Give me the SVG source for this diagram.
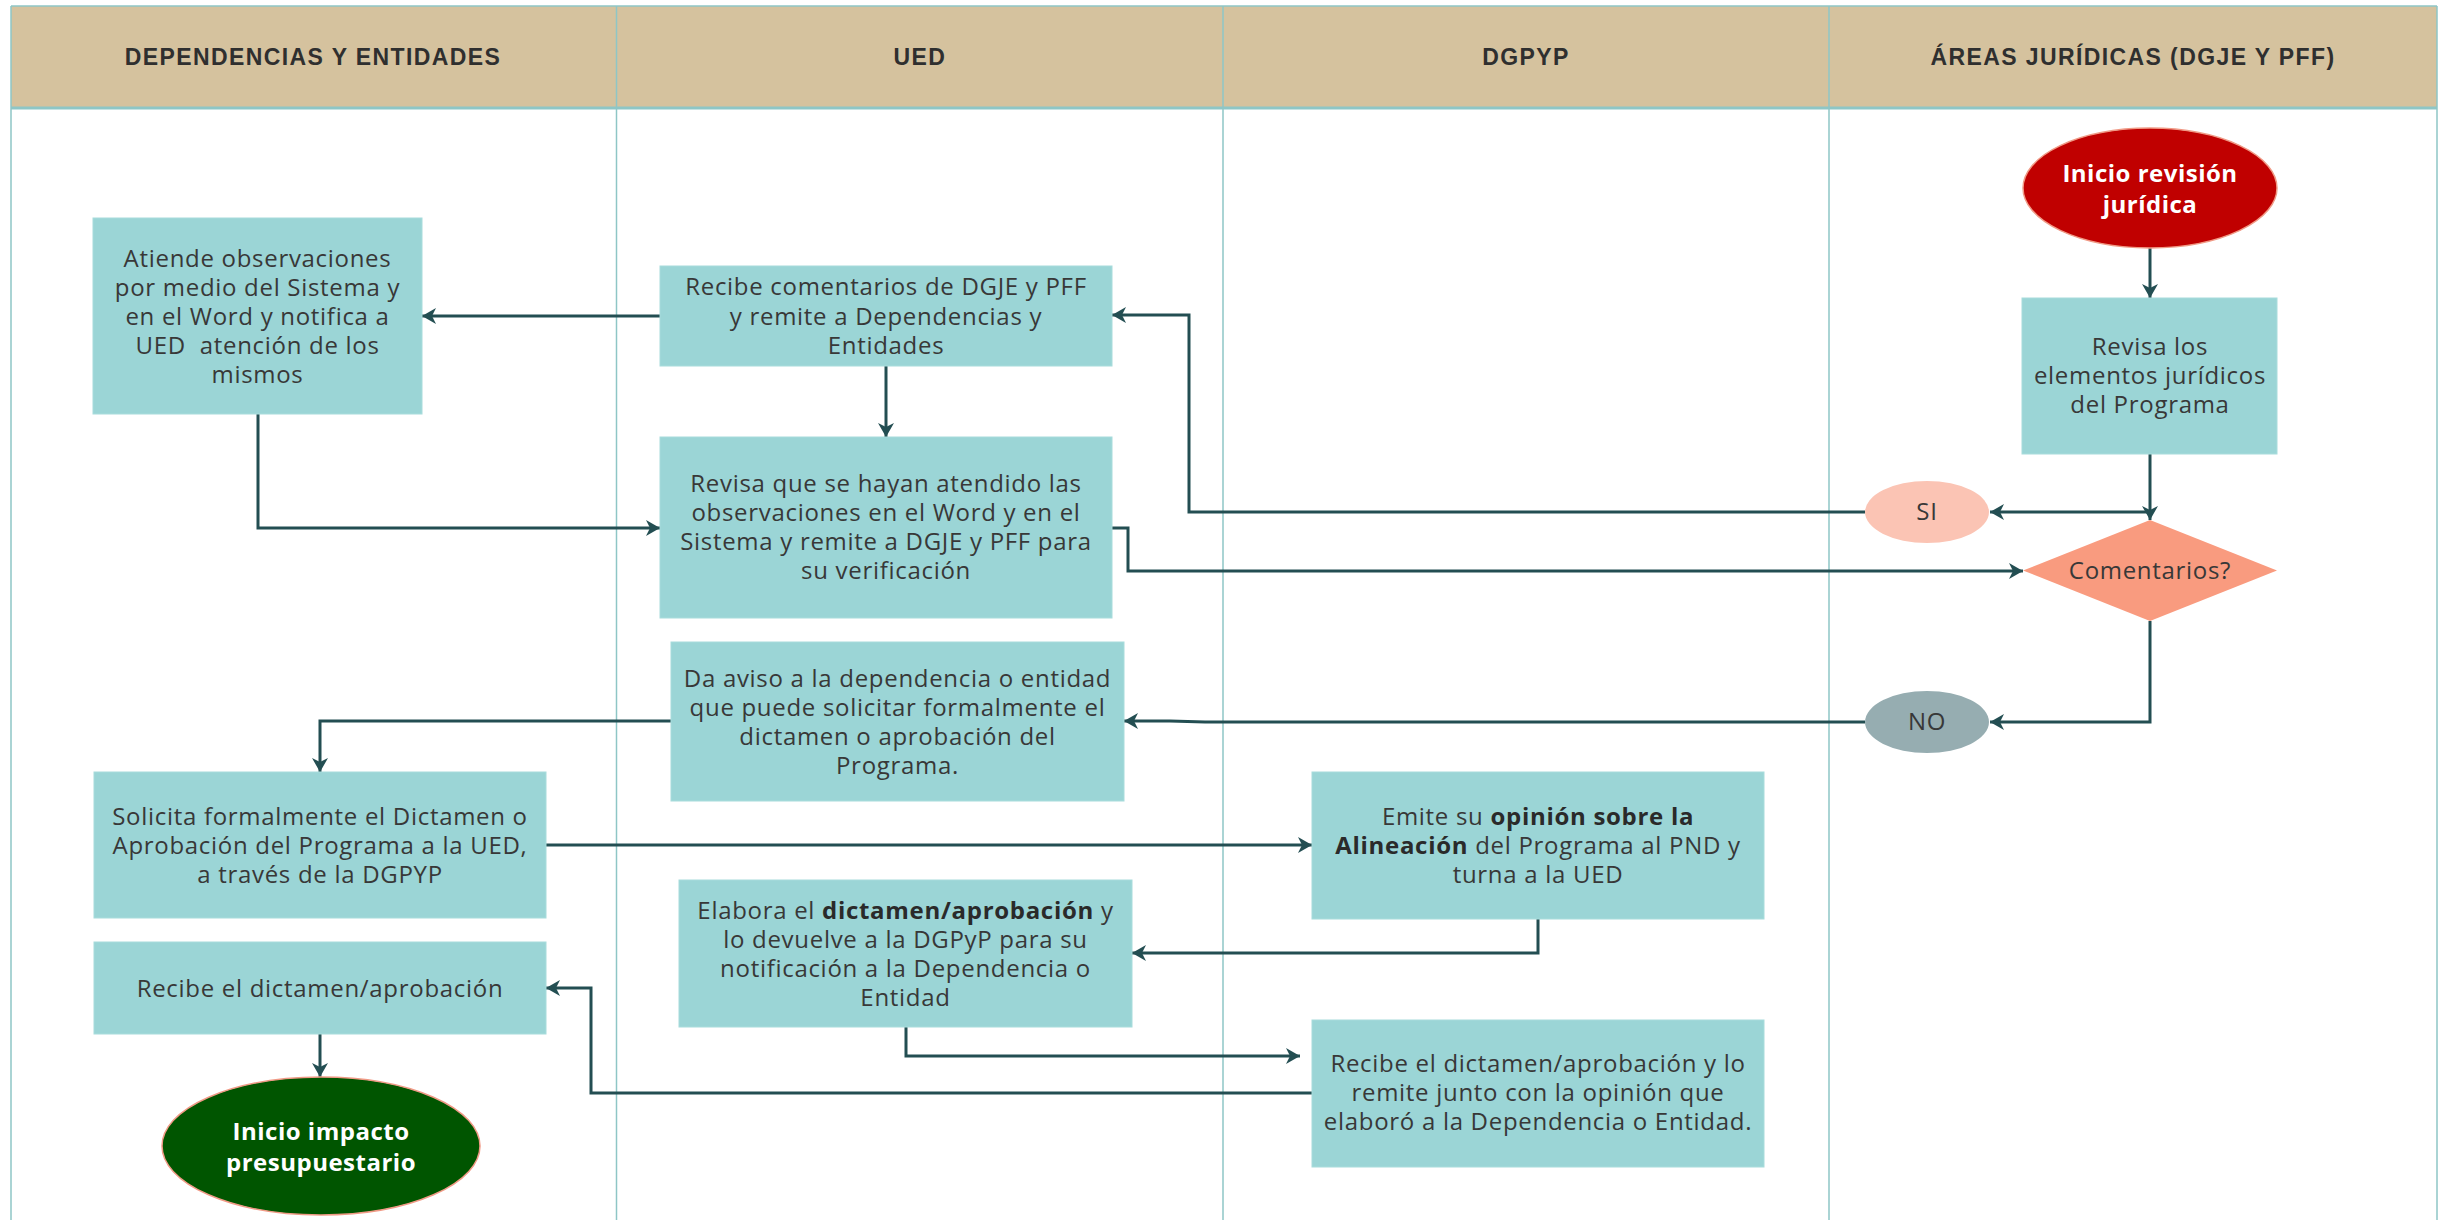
<svg xmlns="http://www.w3.org/2000/svg" width="2453" height="1220" viewBox="0 0 2453 1220">
<style>
.hdr{fill:#d5c29e;stroke:none}
.lane{stroke:#8ec6c6;stroke-width:1.5;fill:none}
.ht{font-family:"Liberation Sans",Arial,sans-serif;font-weight:bold;font-size:23px;fill:#2f2f2f;text-anchor:middle;letter-spacing:1.4px}
.box{fill:#9bd5d6;stroke:#a8dcdc;stroke-width:1}
.t{font-family:"Open Sans",sans-serif;font-size:24px;fill:#383838;text-anchor:middle;letter-spacing:0.7px}
.b{font-weight:bold;fill:#2a2a2a}
.wt{font-family:"Open Sans",sans-serif;font-size:24px;font-weight:bold;fill:#ffffff;text-anchor:middle;letter-spacing:0.5px}
.c{fill:none;stroke:#234e52;stroke-width:3}
</style>
<defs>
<marker id="ah" viewBox="0 0 16 16" refX="15" refY="8" markerWidth="16" markerHeight="16" orient="auto" markerUnits="userSpaceOnUse">
<path d="M1,0 L15,8 L1,16 L5,8 Z" fill="#234e52"/>
</marker>
</defs>
<rect width="2453" height="1220" fill="#ffffff"/>
<g id="lanes">
<rect class="hdr" x="11" y="6" width="2426" height="102"/>
<line class="lane" x1="11" y1="6" x2="2437" y2="6"/>
<line class="lane" x1="11" y1="108" x2="2437" y2="108" style="stroke-width:3"/>
<line class="lane" x1="11" y1="6" x2="11" y2="1220"/>
<line class="lane" x1="616.5" y1="6" x2="616.5" y2="1220"/>
<line class="lane" x1="1223" y1="6" x2="1223" y2="1220"/>
<line class="lane" x1="1829" y1="6" x2="1829" y2="1220"/>
<line class="lane" x1="2437" y1="6" x2="2437" y2="1220"/>
<text class="ht" x="313" y="65">DEPENDENCIAS Y ENTIDADES</text>
<text class="ht" x="920" y="65">UED</text>
<text class="ht" x="1526" y="65">DGPYP</text>
<text class="ht" x="2133" y="65">ÁREAS JURÍDICAS (DGJE Y PFF)</text>
</g>
<g id="connectors">
<path class="c" d="M660,316 H422" marker-end="url(#ah)"/>
<path class="c" d="M886,366 V437" marker-end="url(#ah)"/>
<path class="c" d="M258,414 V528 H660" marker-end="url(#ah)"/>
<path class="c" d="M1112,528 H1128 V571 H2023" marker-end="url(#ah)"/>
<path class="c" d="M2150,248 V298" marker-end="url(#ah)"/>
<path class="c" d="M2150,454 V520" marker-end="url(#ah)"/>
<path class="c" d="M2150,512 H1990" marker-end="url(#ah)"/>
<path class="c" d="M1865,512 H1189 V315 H1112" marker-end="url(#ah)"/>
<path class="c" d="M2150,621 V722 H1990" marker-end="url(#ah)"/>
<path class="c" d="M1865,722 H1205 L1170,721 H1124" marker-end="url(#ah)"/>
<path class="c" d="M671,721 H320 V772" marker-end="url(#ah)"/>
<path class="c" d="M546,845 H1312" marker-end="url(#ah)"/>
<path class="c" d="M1538,919 V953 H1132" marker-end="url(#ah)"/>
<path class="c" d="M906,1027 V1056 H1300" marker-end="url(#ah)"/>
<path class="c" d="M1312,1093 H591 V988 H546" marker-end="url(#ah)"/>
<path class="c" d="M320,1034 V1077" marker-end="url(#ah)"/>
</g>
<g id="n_inicio_revision">
<ellipse cx="2150" cy="188" rx="127" ry="60" fill="#c00000" stroke="#f09a86" stroke-width="1.5"/>
<text class="wt" x="2150" y="182">Inicio revisión</text>
<text class="wt" x="2150" y="213">jurídica</text>
</g>
<g id="n_revisa_elementos">
<rect class="box" x="2022" y="298" width="255" height="156"/>
<text class="t" x="2150" y="355">Revisa los</text>
<text class="t" x="2150" y="384">elementos jurídicos</text>
<text class="t" x="2150" y="413">del Programa</text>
</g>
<g id="n_si">
<ellipse cx="1927" cy="512" rx="62" ry="31" fill="#fbc4b4"/>
<text class="t" x="1927" y="520">SI</text>
</g>
<g id="n_comentarios">
<polygon points="2150,520 2277,570.5 2150,621 2023,570.5" fill="#f99b7f"/>
<text class="t" x="2150" y="579">Comentarios?</text>
</g>
<g id="n_no">
<ellipse cx="1927" cy="722" rx="62" ry="31" fill="#96adb1"/>
<text class="t" x="1927" y="730">NO</text>
</g>
<g id="n_atiende">
<rect class="box" x="93" y="218" width="329" height="196"/>
<text class="t" x="257.5" y="267">Atiende observaciones</text>
<text class="t" x="257.5" y="296">por medio del Sistema y</text>
<text class="t" x="257.5" y="325">en el Word y notifica a</text>
<text class="t" x="257.5" y="354" xml:space="preserve">UED  atención de los</text>
<text class="t" x="257.5" y="383">mismos</text>
</g>
<g id="n_recibe_comentarios">
<rect class="box" x="660" y="266" width="452" height="100"/>
<text class="t" x="886" y="295">Recibe comentarios de DGJE y PFF</text>
<text class="t" x="886" y="325">y remite a Dependencias y</text>
<text class="t" x="886" y="354">Entidades</text>
</g>
<g id="n_revisa_atendido">
<rect class="box" x="660" y="437" width="452" height="181"/>
<text class="t" x="886" y="492">Revisa que se hayan atendido las</text>
<text class="t" x="886" y="521">observaciones en el Word y en el</text>
<text class="t" x="886" y="550">Sistema y remite a DGJE y PFF para</text>
<text class="t" x="886" y="579">su verificación</text>
</g>
<g id="n_da_aviso">
<rect class="box" x="671" y="642" width="453" height="159"/>
<text class="t" x="897.5" y="687">Da aviso a la dependencia o entidad</text>
<text class="t" x="897.5" y="716">que puede solicitar formalmente el</text>
<text class="t" x="897.5" y="745">dictamen o aprobación del</text>
<text class="t" x="897.5" y="774">Programa.</text>
</g>
<g id="n_solicita">
<rect class="box" x="94" y="772" width="452" height="146"/>
<text class="t" x="320" y="825">Solicita formalmente el Dictamen o</text>
<text class="t" x="320" y="854">Aprobación del Programa a la UED,</text>
<text class="t" x="320" y="883">a través de la DGPYP</text>
</g>
<g id="n_emite">
<rect class="box" x="1312" y="772" width="452" height="147"/>
<text class="t" x="1538" y="825">Emite su <tspan class="b">opinión sobre la</tspan></text>
<text class="t" x="1538" y="854"><tspan class="b">Alineación</tspan> del Programa al PND y</text>
<text class="t" x="1538" y="883">turna a la UED</text>
</g>
<g id="n_elabora">
<rect class="box" x="679" y="880" width="453" height="147"/>
<text class="t" x="905.5" y="919">Elabora el <tspan class="b">dictamen/aprobación</tspan> y</text>
<text class="t" x="905.5" y="948">lo devuelve a la DGPyP para su</text>
<text class="t" x="905.5" y="977">notificación a la Dependencia o</text>
<text class="t" x="905.5" y="1006">Entidad</text>
</g>
<g id="n_recibe_dictamen">
<rect class="box" x="94" y="942" width="452" height="92"/>
<text class="t" x="320" y="997">Recibe el dictamen/aprobación</text>
</g>
<g id="n_recibe_remite">
<rect class="box" x="1312" y="1020" width="452" height="147"/>
<text class="t" x="1538" y="1072">Recibe el dictamen/aprobación y lo</text>
<text class="t" x="1538" y="1101">remite junto con la opinión que</text>
<text class="t" x="1538" y="1130">elaboró a la Dependencia o Entidad.</text>
</g>
<g id="n_inicio_impacto">
<ellipse cx="321" cy="1146" rx="159" ry="69" fill="#005500" stroke="#f09a86" stroke-width="1.5"/>
<text class="wt" x="321" y="1140">Inicio impacto</text>
<text class="wt" x="321" y="1171">presupuestario</text>
</g>
</svg>
